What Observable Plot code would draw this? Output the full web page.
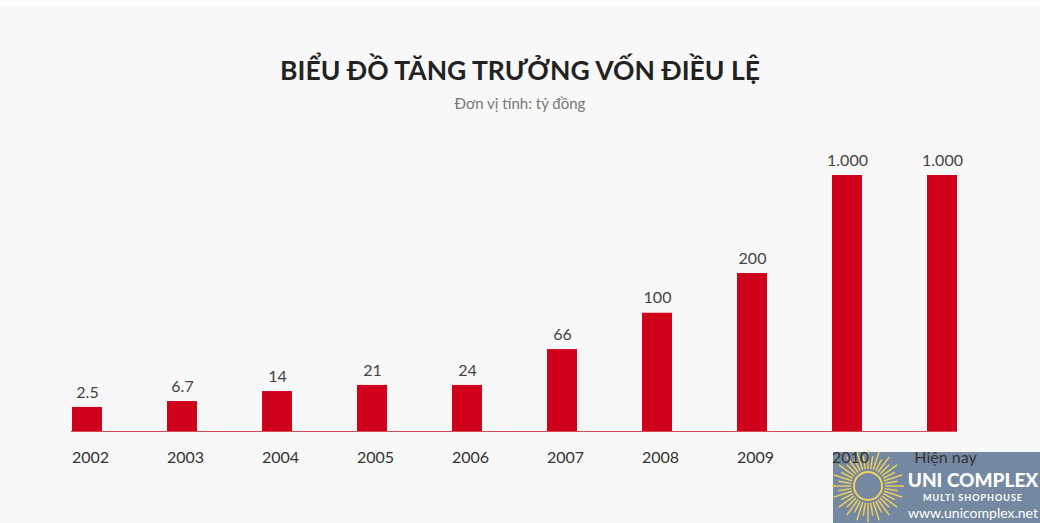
<!DOCTYPE html>
<html>
<head>
<meta charset="utf-8">
<script src="https://cdn.jsdelivr.net/npm/d3@7"></script>
<script src="https://cdn.jsdelivr.net/npm/@observablehq/plot@0.6"></script>
<style>
  html, body { margin: 0; padding: 0; background: #fff; }
  #wrap { position: relative; width: 1040px; height: 523px; overflow: hidden; }
  #bg { position: absolute; left: 0; top: 6px; width: 1040px; height: 517px; background: #f8f8f8; }
  #title { position: absolute; left: 0; width: 1040px; top: 52px; text-align: center;
    font-family: Lato, "Open Sans", sans-serif; font-weight: 700; font-size: 26.5px; line-height: 36px; color: #222; }
  #subtitle { position: absolute; left: 0; width: 1040px; top: 93px; text-align: center;
    font-family: Lato, "Open Sans", sans-serif; font-size: 15px; line-height: 20px; color: #777; }
  #logo { position: absolute; left: 833px; top: 452px; width: 207px; height: 71px; background: #7489a1; }
  #chart { position: absolute; left: 0; top: 130px; }
</style>
</head>
<body>
<div id="wrap">
  <div id="bg"></div>
  <div id="logo"></div>
  <div id="title">BIỂU ĐỒ TĂNG TRƯỞNG VỐN ĐIỀU LỆ</div>
  <div id="subtitle">Đơn vị tính: tỷ đồng</div>
  <div id="chart"></div>
</div>
<script>
// Categories (years)
const years = ["2002", "2003", "2004", "2005", "2006", "2007", "2008", "2009", "2010", "Hiện nay"];
// Charter capital labels (billion VND), as printed
const valueLabels = ["2.5", "6.7", "14", "21", "24", "66", "100", "200", "1.000", "1.000"];
// Displayed bar height, percent of the tallest bar (bars are not drawn to value scale in the original)
const heightPct = [9.4, 11.7, 15.6, 18, 18, 32, 46.2, 61.7, 100, 100];

const data = years.map((y, i) => ({year: y, label: valueLabels[i], h: heightPct[i]}));

const font = "Lato, 'Open Sans', sans-serif";

const chart = Plot.plot({
  width: 1040,
  height: 393,
  marginTop: 45,
  marginBottom: 92,
  marginLeft: 6,
  marginRight: 18,
  style: {background: "transparent", fontFamily: font, fontSize: "16px", color: "#333", overflow: "visible"},
  x: {domain: years, paddingInner: 0.6845, paddingOuter: 0.6845, label: null},
  y: {domain: [0, 100], axis: null},
  marks: [
    Plot.barY(data, {x: "year", y: "h", fill: "#d0011b"}),
    Plot.ruleY([0], {stroke: "#d44a55", strokeWidth: 1, insetLeft: 65, insetRight: 65}),
    Plot.text(data, {x: "year", y: "h", text: "label", dy: -15, fill: "#444", fontSize: 16}),
    Plot.axisX({tickSize: 0, tickPadding: 20, dx: 3, fill: "#333", fontSize: 16, label: null})
  ]
});
document.getElementById("chart").appendChild(chart);

// Logo watermark
const logo = d3.select("#logo").append("svg").attr("width", 207).attr("height", 71).style("overflow", "visible");
const cx = 35, cy = 34;
const rays = d3.range(40).map(i => i * 2 * Math.PI / 40);
logo.append("g").selectAll("line").data(rays).join("line")
  .attr("x1", a => cx + 17 * Math.cos(a)).attr("y1", a => cy + 17 * Math.sin(a))
  .attr("x2", (a, i) => cx + (i % 2 ? 30 : 36) * Math.cos(a)).attr("y2", (a, i) => cy + (i % 2 ? 30 : 36) * Math.sin(a))
  .attr("stroke", "#f2d15a").attr("stroke-width", 1.4);
logo.append("circle").attr("cx", cx).attr("cy", cy).attr("r", 14)
  .attr("fill", "none").attr("stroke", "#f2d15a").attr("stroke-width", 2);
logo.append("text").attr("x", 140).attr("y", 35).attr("text-anchor", "middle")
  .attr("fill", "#fff").attr("font-family", font).attr("font-weight", 900).attr("font-size", 19).text("UNI COMPLEX");
logo.append("text").attr("x", 140).attr("y", 49).attr("text-anchor", "middle")
  .attr("fill", "#fff").attr("font-family", font).attr("font-weight", 700).attr("font-size", 9).attr("letter-spacing", 1).text("MULTI SHOPHOUSE");
logo.append("text").attr("x", 140).attr("y", 66).attr("text-anchor", "middle")
  .attr("fill", "#fff").attr("font-family", font).attr("font-size", 14).text("www.unicomplex.net");
</script>
</body>
</html>
